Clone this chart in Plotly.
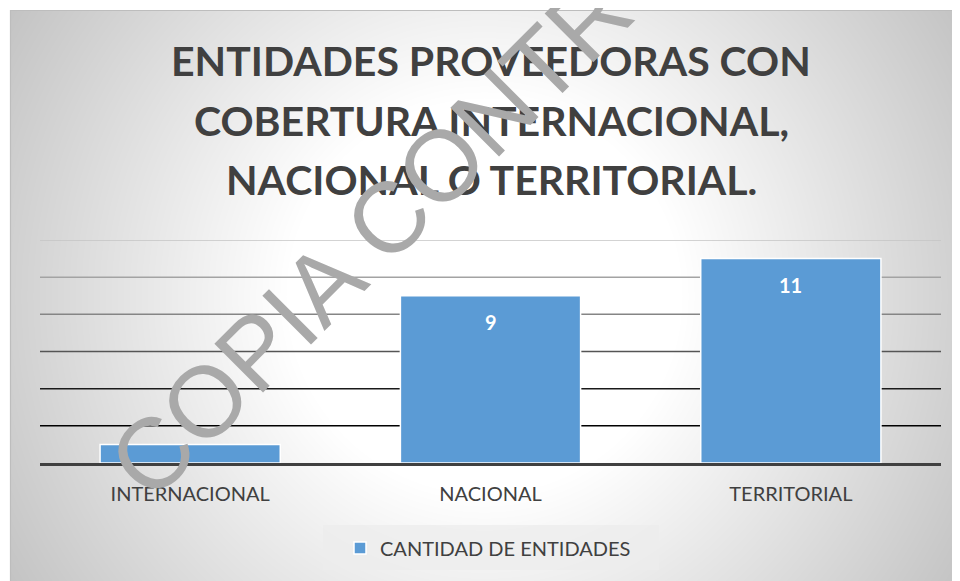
import base64
import struct
import zlib

import numpy as np
import plotly.graph_objects as go

# ---------------- data ----------------
categories = ["INTERNACIONAL", "NACIONAL", "TERRITORIAL"]
values = [1, 9, 11]
series_name = "CANTIDAD DE ENTIDADES"
title_lines = ["ENTIDADES PROVEEDORAS CON", "COBERTURA INTERNACIONAL,", "NACIONAL O TERRITORIAL."]
grid_values = [2, 4, 6, 8, 10, 12]
watermark_text = "COPIA CONTROLADA"

# ---------------- styles / geometry ----------------
grid_colors = ["#000000", "#1a1a1a", "#555555", "#858585", "#a3a3a3", "#c4c4c4"]
W, H = 960, 581
OFF = 8  # page body margin
PW, PH = 901, 223
L = 40 - OFF
T = 240 - OFF
R = W - L - PW
B = H - T - PH


def px(x):
    """screen x -> paper x"""
    return (x - OFF - L) / PW


def py(y):
    """screen y -> paper y"""
    return (T + PH - (y - OFF)) / PH


# radial gradient background as a PNG (screen coords)
bx0, by0, bx1, by1 = 10, 10, 960, 581
gw, gh = bx1 - bx0, by1 - by0
yy, xx = np.mgrid[0:gh, 0:gw]
rr = np.hypot(xx + bx0 - 484, yy + by0 - 296)
gray = np.clip(255 - np.maximum(0, rr - 198) * 0.166, 0, 255).astype(np.uint8)
raw = b"".join(b"\x00" + gray[i].tobytes() for i in range(gh))


def chunk(tag, data):
    return struct.pack(">I", len(data)) + tag + data + struct.pack(">I", zlib.crc32(tag + data) & 0xFFFFFFFF)


png = (b"\x89PNG\r\n\x1a\n"
       + chunk(b"IHDR", struct.pack(">IIBBBBB", gw, gh, 8, 0, 0, 0, 0))
       + chunk(b"IDAT", zlib.compress(raw, 9))
       + chunk(b"IEND", b""))
uri = "data:image/png;base64," + base64.b64encode(png).decode()

fig = go.Figure()
fig.add_trace(go.Bar(
    x=categories, y=values, name=series_name,
    marker=dict(color="#5b9bd5", line=dict(color="white", width=1.5)),
    hoverinfo="x+y",
))

shapes = [
    dict(type="rect", xref="paper", yref="paper", x0=px(10.5), x1=px(990), y0=py(10.5), y1=py(620),
         line=dict(color="#bdbdbd", width=1.2), fillcolor="rgba(0,0,0,0)", layer="below"),
    dict(type="rect", xref="paper", yref="paper", x0=px(323), x1=px(659), y0=py(525), y1=py(570),
         line=dict(width=0), fillcolor="rgba(236,236,236,0.75)", layer="below"),
]
for v, c in zip(grid_values, grid_colors):
    shapes.append(dict(type="line", xref="paper", yref="y", x0=0, x1=1, y0=v, y1=v,
                       line=dict(color=c, width=1.5), layer="below"))

annotations = []
for cat, v in zip(categories, values):
    if v > 1:
        annotations.append(dict(x=cat, y=v, xref="x", yref="y", text=f"<b>{v}</b>", showarrow=False,
                                yanchor="middle", yshift=-26,
                                font=dict(family="Lato", size=20, color="white")))
for i, line in enumerate(title_lines):
    annotations.append(dict(x=px(491), y=py(61 + 59 * i), xref="paper", yref="paper",
                            text=f"<b>{line}</b>", showarrow=False,
                            xanchor="center", yanchor="middle",
                            font=dict(family="Lato", size=41, color="#404040")))
annotations.append(dict(x=px(490), y=py(116), xref="paper", yref="paper", text=watermark_text,
                        showarrow=False, textangle=-45, xanchor="center", yanchor="middle",
                        font=dict(family="Liberation Sans, Arial", size=100, color="#a9a9a9")))

fig.update_layout(
    width=W, height=H,
    margin=dict(l=L, r=R, t=T, b=B, pad=0),
    paper_bgcolor="white",
    plot_bgcolor="rgba(0,0,0,0)",
    images=[dict(source=uri, xref="paper", yref="paper", x=px(bx0), y=py(by0),
                 sizex=gw / PW, sizey=gh / PH, xanchor="left", yanchor="top",
                 sizing="stretch", layer="below")],
    shapes=shapes,
    annotations=annotations,
    bargap=0.4,
    showlegend=True,
    legend=dict(orientation="h", x=px(340), xanchor="left", y=py(548), yanchor="middle",
                bgcolor="rgba(0,0,0,0)", font=dict(family="Lato", size=20, color="#404040")),
    xaxis=dict(showline=True, linecolor="#404040", linewidth=3, showgrid=False,
               ticks="outside", ticklen=11, tickcolor="rgba(0,0,0,0)",
               tickfont=dict(family="Lato", size=20, color="#404040")),
    yaxis=dict(range=[0, 12], showgrid=False, zeroline=False, showticklabels=False, showline=False),
)

fig.write_html("out.html")
